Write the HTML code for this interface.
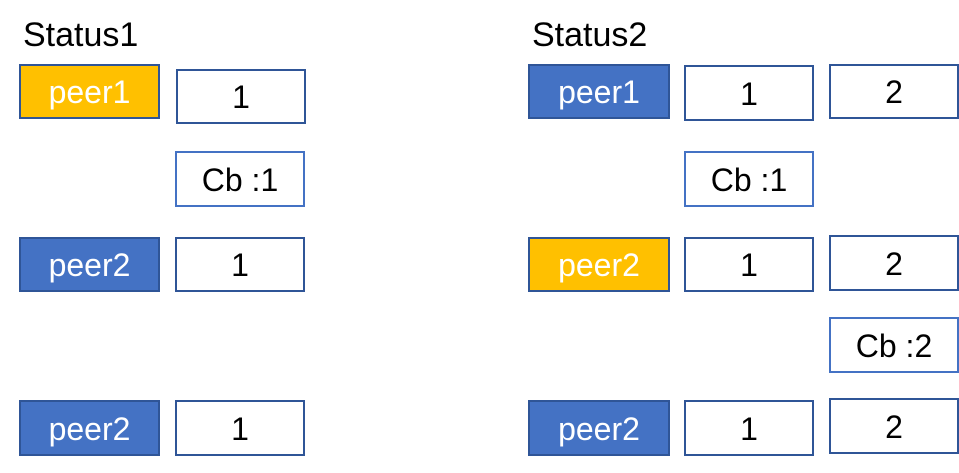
<!DOCTYPE html>
<html><head><meta charset="utf-8"><style>
body{margin:0;width:959px;height:473px;background:#fff;position:relative;overflow:hidden;font-family:"Liberation Sans",sans-serif}
.b{position:absolute;box-sizing:border-box;border:2px solid #2F5597;display:flex;align-items:center;justify-content:center;font-size:32px;color:#000;background:#fff;padding-top:2px}
.o{background:#FFC000;color:#fff}
.u{background:#4472C4;color:#fff}
.c{border-color:#4472C4}
.t{position:absolute;font-size:34px;color:#000;line-height:1}
</style></head><body>
<div class="t" style="left:23px;top:18px">Status1</div>
<div class="t" style="left:532px;top:18px">Status2</div>

<div class="b o" style="left:19px;top:64px;width:141px;height:55px">peer1</div>
<div class="b" style="left:176px;top:69px;width:130px;height:55px">1</div>
<div class="b c" style="left:175px;top:151px;width:130px;height:56px">Cb :1</div>
<div class="b u" style="left:19px;top:237px;width:141px;height:55px">peer2</div>
<div class="b" style="left:175px;top:237px;width:130px;height:55px">1</div>
<div class="b u" style="left:19px;top:400px;width:141px;height:56px">peer2</div>
<div class="b" style="left:175px;top:400px;width:130px;height:56px">1</div>

<div class="b u" style="left:528px;top:64px;width:142px;height:55px">peer1</div>
<div class="b" style="left:684px;top:65px;width:130px;height:56px">1</div>
<div class="b" style="left:829px;top:64px;width:130px;height:55px">2</div>
<div class="b c" style="left:684px;top:151px;width:130px;height:56px">Cb :1</div>
<div class="b o" style="left:528px;top:237px;width:142px;height:55px">peer2</div>
<div class="b" style="left:684px;top:237px;width:130px;height:55px">1</div>
<div class="b" style="left:829px;top:235px;width:130px;height:56px">2</div>
<div class="b c" style="left:829px;top:317px;width:130px;height:56px">Cb :2</div>
<div class="b u" style="left:528px;top:400px;width:142px;height:56px">peer2</div>
<div class="b" style="left:684px;top:400px;width:130px;height:56px">1</div>
<div class="b" style="left:829px;top:398px;width:130px;height:56px">2</div>
</body></html>
